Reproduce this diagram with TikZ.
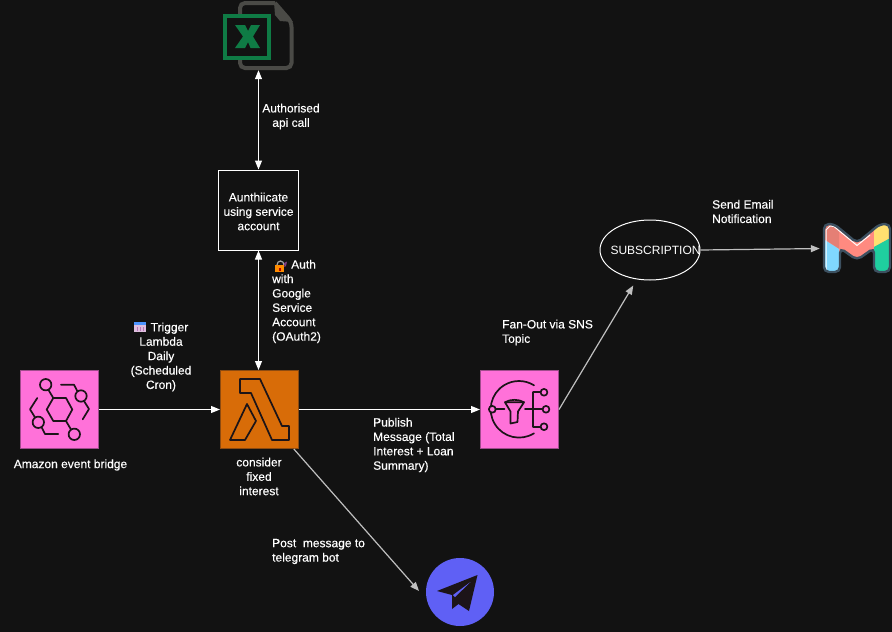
\documentclass[tikz,border=0pt]{standalone}
\usepackage{fontspec}
\setmainfont{Liberation Sans}
\newfontfamily\lblfont[FakeBold=0.25]{Liberation Sans}
\usetikzlibrary{arrows.meta, shapes.geometric}
\definecolor{bgdark}{HTML}{121212}
\definecolor{pinkbox}{HTML}{FF71D9}
\definecolor{pinkedge}{HTML}{A04C8C}
\definecolor{lambdabox}{HTML}{D86C08}
\definecolor{lambdaedge}{HTML}{8C4A10}
\definecolor{iconink}{HTML}{1C1418}
\definecolor{excelgreen}{HTML}{0F7B45}
\definecolor{docgrey}{HTML}{4A4A46}
\definecolor{planeblue}{HTML}{5F60F5}
\definecolor{mailedge}{HTML}{3C5060}
\definecolor{mailsalmon}{HTML}{FF8A80}
\definecolor{maildark}{HTML}{E57F75}
\definecolor{mailblue}{HTML}{80D8FF}
\definecolor{mailyellow}{HTML}{FFE070}
\definecolor{mailgreen}{HTML}{1FCF9F}
\tikzset{
    lbl/.style={text=white, font=\fontsize{12}{14.4}\selectfont\lblfont, inner sep=0pt},
    lblleft/.style={lbl, align=left, anchor=west},
    lblmid/.style={lbl, align=center},
    iconbox/.style={draw=#1, line width=1pt, minimum size=78pt, inner sep=0pt},
    ink/.style={draw=iconink, line width=1.7pt, line join=round, line cap=round},
    conn/.style={-{Triangle[length=9pt,width=7pt]}, white, line width=1pt},
    connboth/.style={{Triangle[length=9pt,width=7pt]}-{Triangle[length=9pt,width=7pt]}, white, line width=1pt},
    connsoft/.style={-{Triangle[length=9pt,width=7pt]}, white!75!black, line width=1.2pt},
}
\begin{document}
\begin{tikzpicture}[x=1pt, y=-1pt]
    % Background
    \fill[bgdark] (0,0) rectangle (892,632);
    \useasboundingbox (0,0) rectangle (892,632);

    % Main boxes
    \node[iconbox=pinkedge, fill=pinkbox] (bridge) at (59.5,409.5) {};
    \node[iconbox=lambdaedge, fill=lambdabox] (lambda) at (259.5,409.5) {};
    \node[iconbox=pinkedge, fill=pinkbox] (sns) at (519.5,409.5) {};
    \node[draw=white, line width=1pt, fill=bgdark, minimum width=80pt, minimum height=80pt, inner sep=0pt] (auth) at (258.5,210) {};
    \node[ellipse, draw=white, line width=1pt, minimum width=100pt, minimum height=60pt, inner sep=0pt] (subscription) at (650,250) {};

    % Spreadsheet icon
    \node[minimum width=55pt, minimum height=69pt, inner sep=0pt] (excel) at (265.5,35.5) {};
    \draw[docgrey, line width=4pt, rounded corners=5pt] (275,3) -- (240,3) -- (240,68) -- (291.5,68) -- (291.5,22) -- (275,3);
    \fill[docgrey] (274,2) -- (293,22) -- (280,21) -- (275,15) -- cycle;
    \draw[excelgreen, line width=4pt, fill=bgdark] (225,16) rectangle (269,58);
    \fill[excelgreen] (235,25) -- (245,25) -- (248,31) -- (251,25) -- (260,25) -- (253,36.5) -- (260,48) -- (250.5,48) -- (248,42) -- (245,48) -- (235,48) -- (243,36.5) -- cycle;

    % Event bus icon
    \draw[ink] (53.3,398) -- (66,398) -- (72.3,409.5) -- (66,421) -- (53.3,421) -- (46.7,409.5) -- cycle;
    \foreach \cx/\cy in {45.7/384.7, 81/396, 38.3/422.3, 74.3/434.3} {
        \draw[ink] (\cx,\cy) circle (5.7);
    }
    \draw[ink] (53.3,398) -- (48.5,390);
    \draw[ink] (66,421) -- (71,429.5);
    \draw[ink] (61,384.7) -- (74,384.7) -- (77.3,391);
    \draw[ink] (84,401) -- (89,409) -- (82.7,419.3);
    \draw[ink] (37.3,398) -- (30,409.3) -- (35,417.3);
    \draw[ink] (41.7,427.3) -- (45,434) -- (58.3,434);

    % Function icon
    \draw[ink] (240,379) -- (260,379) -- (282,426) -- (289,426) -- (289,440) -- (272,440) -- (251,393) -- (240,393) -- cycle;
    \draw[ink] (247,404) -- (256,421) -- (245,440) -- (230,440) -- cycle;

    % Topic icon
    \draw[ink] (519,409.3) ++(58:28.3) arc (58:302:28.3);
    \draw[ink, fill=pinkbox] (492.3,409.3) circle (3.4);
    \draw[ink] (495.7,409.3) -- (504.5,409.3);
    \draw[ink] (505,402.3) -- (524,402.3) -- (518,411.5) -- (517.5,422) -- (510.5,423.5) -- (510.5,411.5) -- cycle;
    \draw[ink] (505,402.3) .. controls (510,399) and (519,399) .. (524,402.3);
    \draw[ink] (525,409.3) -- (542.5,409.3);
    \draw[ink] (533.3,392.3) -- (533.3,426.7);
    \draw[ink] (533.3,392.3) -- (540.5,392.3);
    \draw[ink] (533.3,426.7) -- (540.5,426.7);
    \foreach \cx/\cy in {544/392.3, 546/409.3, 544/426.7} {
        \draw[ink] (\cx,\cy) circle (3.4);
    }

    % Mail icon
    \node[minimum width=67pt, minimum height=50pt, inner sep=0pt] (gmail) at (856.5,248.5) {};
    \begin{scope}
        \clip[rounded corners=5pt] (824,224) -- (834,224) -- (857,243) -- (880,224) -- (890,224) -- (890,272) -- (874,272) -- (874,248) -- (857,260) -- (840,248) -- (840,272) -- (824,272) -- cycle;
        \fill[mailsalmon] (820,220) rectangle (894,276);
        \fill[maildark] (820,236) -- (839,249) -- (839,220) -- (820,220) -- cycle;
        \fill[mailblue] (820,237) -- (839,249) -- (839,276) -- (820,276) -- cycle;
        \fill[mailyellow] (874,230) -- (874,247) -- (894,236) -- (894,220) -- (884,220) -- cycle;
        \fill[mailgreen] (874,247) -- (894,236) -- (894,276) -- (874,276) -- cycle;
    \end{scope}
    \draw[white, line width=1pt] (826,270) -- (826,230) -- (830,226) -- (834,226.5) -- (857,245.5) -- (870,235);
    \draw[mailedge, line width=2.4pt, rounded corners=5pt] (824,224) -- (834,224) -- (857,243) -- (880,224) -- (890,224) -- (890,272) -- (874,272) -- (874,248) -- (857,260) -- (840,248) -- (840,272) -- (824,272) -- cycle;

    % Messenger icon
    \node[circle, fill=planeblue, minimum size=68pt, inner sep=0pt] (telegram) at (460,592) {};
    \fill[iconink] (477.5,575) -- (437,591) -- (452,595) -- (452,609) -- (458.5,604) -- (469,611) -- cycle;
    \fill[planeblue] (453,595) -- (470.5,582) -- (455,597) -- cycle;

    % Small symbols in the labels
    \fill[violet!25!white] (134,322) rectangle (146,332);
    \fill[blue!60!cyan!70!white] (134,322) rectangle (146,325);
    \foreach \cx in {136.5,139.5,142.5} {
        \fill[violet!55!white] (\cx,326.5) rectangle ++(1.6,4);
    }
    \draw[gray!70!white, line width=1.2pt] (277,265) arc (180:360:3.5 and 4);
    \fill[orange!90!yellow] (275,265) rectangle (284,272);
    \fill[red!70!black] (278.5,267.5) rectangle (280.5,270.5);
    \fill[violet!50!gray] (284,263) -- (287,261.5) -- (286,266) -- (284.5,267) -- cycle;

    % Connectors
    \draw[connboth] (auth.north) -- (auth.north |- excel.south);
    \draw[connboth] (auth.south) -- (auth.south |- lambda.north);
    \draw[conn] (bridge.east) -- (lambda.west);
    \draw[conn] (lambda.east) -- (sns.west);
    \draw[connsoft, shorten >=7pt] (sns.east) -- (subscription.-114);
    \draw[connsoft, shorten >=3pt] (subscription.east) -- (gmail.west);
    \coordinate (telegramtip) at (419,591);
    \draw[connsoft] (lambda.-49) -- (telegramtip);

    % Labels
    \node[lblmid] (lblbridge) at (70.5,465) {Amazon event bridge};
    \node[lblmid] (lblfixed) at (259,476.5) {consider\\fixed\\interest};
    \node[lblmid] (lblauth) at (258.5,211.5) {Aunthiicate\\using service\\account};
    \node[lblmid] (lblapi) at (291,116.5) {Authorised\\api call};
    \node[lblmid] (lbltrigger) at (161,357) {\hspace{17pt}Trigger\\Lambda\\Daily\\(Scheduled\\Cron)};
    \node[lblleft] (lblgoogle) at (272,301.5) {\hspace{19pt}Auth\\with\\Google\\Service\\Account\\(OAuth2)};
    \node[lblleft] (lblpublish) at (373,445) {Publish\\Message (Total\\Interest + Loan\\Summary)};
    \node[lblleft] (lblfanout) at (502,332.5) {Fan-Out via SNS\\Topic};
    \node[lblleft] (lblmail) at (712,211.5) {Send Email\\Notification};
    \node[lblleft] (lblpost) at (272,551.5) {Post\ \ message to\\telegram bot};
    \node[text=white, font=\fontsize{12}{14.4}\selectfont, inner sep=0pt] (lblsub) at (655.5,250) {SUBSCRIPTION};
\end{tikzpicture}
\end{document}
